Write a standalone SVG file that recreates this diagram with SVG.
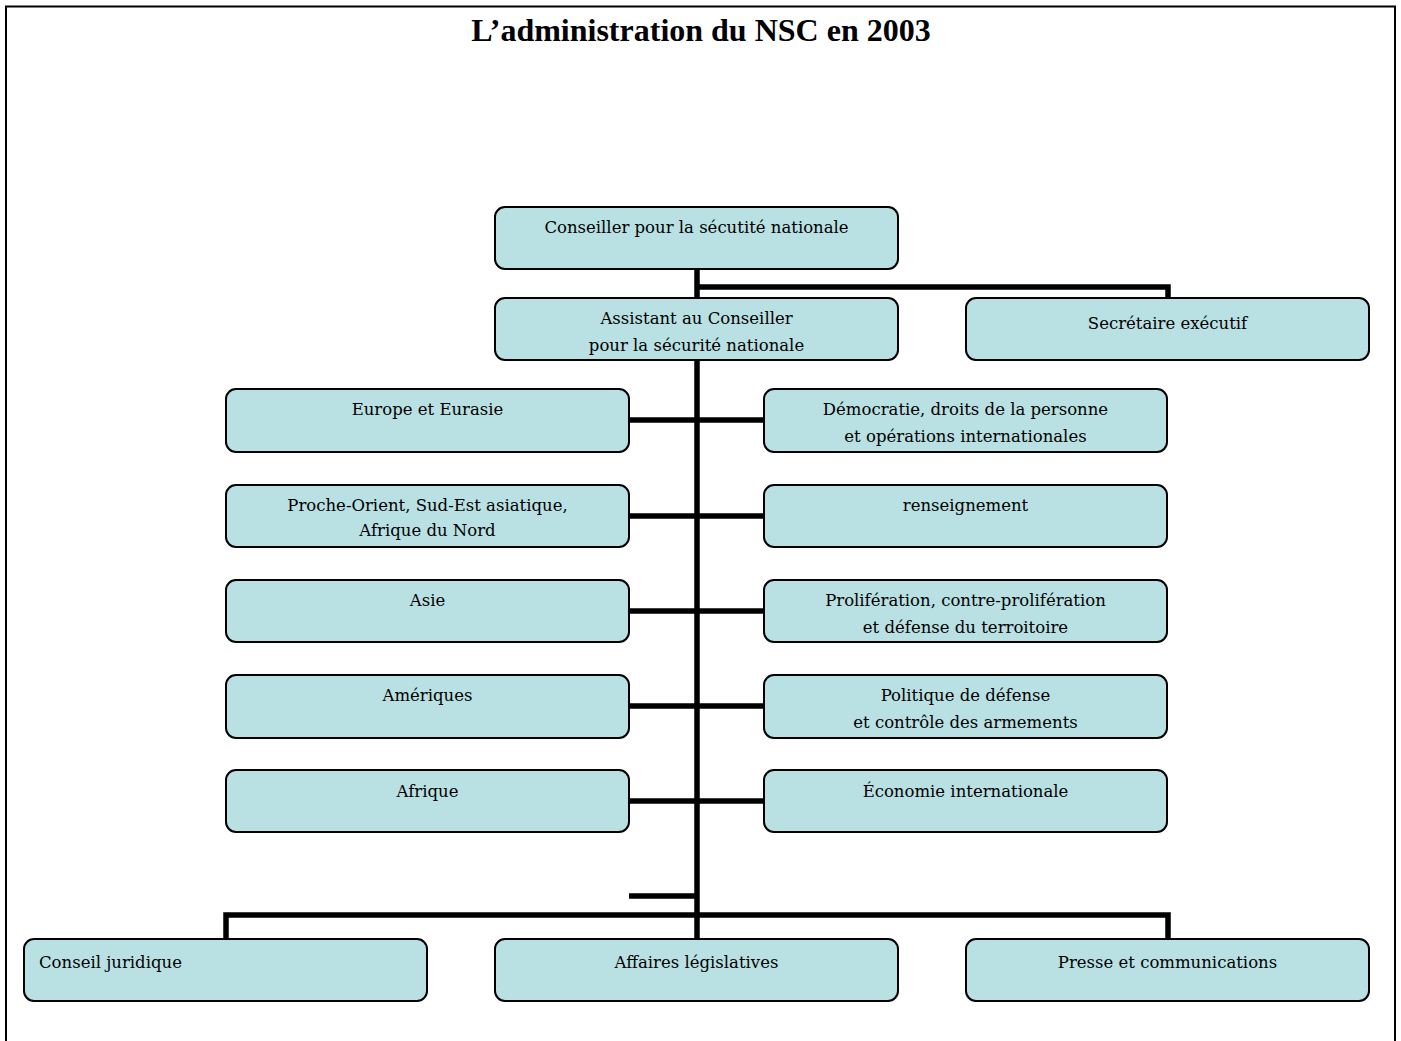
<svg xmlns="http://www.w3.org/2000/svg" width="1401" height="1041" viewBox="0 0 1401 1041">
<style>
.box{fill:#b9e0e3;stroke:#000;stroke-width:2}
.t{font-family:"DejaVu Serif","Liberation Serif",serif;font-size:16.5px;fill:#000;text-anchor:middle}
.tl{font-family:"DejaVu Serif","Liberation Serif",serif;font-size:16.5px;fill:#000}
.title{font-family:"Liberation Serif","DejaVu Serif",serif;font-size:32px;font-weight:bold;fill:#000;text-anchor:middle}
.c{fill:none;stroke:#000;stroke-width:5.5;stroke-linecap:butt;stroke-linejoin:miter}
</style>
<rect width="1401" height="1041" fill="#fff"/>
<path d="M6,1045 V6.5 H1395 V1045" fill="none" stroke="#000" stroke-width="2"/>
<text class="title" x="701" y="41">L’administration du NSC en 2003</text>

<g id="connectors">
<path class="c" d="M697,269 V939"/>
<path class="c" d="M697,287 H1168 V298"/>
<path class="c" d="M629,420 H764"/>
<path class="c" d="M629,516 H764"/>
<path class="c" d="M629,611 H764"/>
<path class="c" d="M629,706 H764"/>
<path class="c" d="M629,801 H764"/>
<path class="c" d="M629,896 H697"/>
<path class="c" d="M226,939 V915 H1168 V939"/>
</g>

<g id="n-conseiller"><rect class="box" x="495" y="207" width="403" height="62" rx="10"/><text class="t" x="696.5" y="233">Conseiller pour la sécutité nationale</text></g>
<g id="n-assistant"><rect class="box" x="495" y="298" width="403" height="62" rx="10"/><text class="t" x="696.5" y="324">Assistant au Conseiller</text><text class="t" x="696.5" y="351">pour la sécurité nationale</text></g>
<g id="n-secretaire"><rect class="box" x="966" y="298" width="403" height="62" rx="10"/><text class="t" x="1167.5" y="329">Secrétaire exécutif</text></g>

<g id="n-europe"><rect class="box" x="226" y="389" width="403" height="63" rx="10"/><text class="t" x="427.5" y="415">Europe et Eurasie</text></g>
<g id="n-democratie"><rect class="box" x="764" y="389" width="403" height="63" rx="10"/><text class="t" x="965.5" y="415">Démocratie, droits de la personne</text><text class="t" x="965.5" y="442">et opérations internationales</text></g>
<g id="n-proche"><rect class="box" x="226" y="485" width="403" height="62" rx="10"/><text class="t" x="427.5" y="511">Proche-Orient, Sud-Est asiatique,</text><text class="t" x="427.5" y="536">Afrique du Nord</text></g>
<g id="n-renseignement"><rect class="box" x="764" y="485" width="403" height="62" rx="10"/><text class="t" x="965.5" y="511">renseignement</text></g>
<g id="n-asie"><rect class="box" x="226" y="580" width="403" height="62" rx="10"/><text class="t" x="427.5" y="606">Asie</text></g>
<g id="n-proliferation"><rect class="box" x="764" y="580" width="403" height="62" rx="10"/><text class="t" x="965.5" y="606">Prolifération, contre-prolifération</text><text class="t" x="965.5" y="633">et défense du terroitoire</text></g>
<g id="n-ameriques"><rect class="box" x="226" y="675" width="403" height="63" rx="10"/><text class="t" x="427.5" y="701">Amériques</text></g>
<g id="n-politique"><rect class="box" x="764" y="675" width="403" height="63" rx="10"/><text class="t" x="965.5" y="701">Politique de défense</text><text class="t" x="965.5" y="728">et contrôle des armements</text></g>
<g id="n-afrique"><rect class="box" x="226" y="770" width="403" height="62" rx="10"/><text class="t" x="427.5" y="797">Afrique</text></g>
<g id="n-economie"><rect class="box" x="764" y="770" width="403" height="62" rx="10"/><text class="t" x="965.5" y="797">Économie internationale</text></g>

<g id="n-juridique"><rect class="box" x="24" y="939" width="403" height="62" rx="10"/><text class="tl" x="39" y="968">Conseil juridique</text></g>
<g id="n-legislatives"><rect class="box" x="495" y="939" width="403" height="62" rx="10"/><text class="t" x="696.5" y="968">Affaires législatives</text></g>
<g id="n-presse"><rect class="box" x="966" y="939" width="403" height="62" rx="10"/><text class="t" x="1167.5" y="968">Presse et communications</text></g>
</svg>
